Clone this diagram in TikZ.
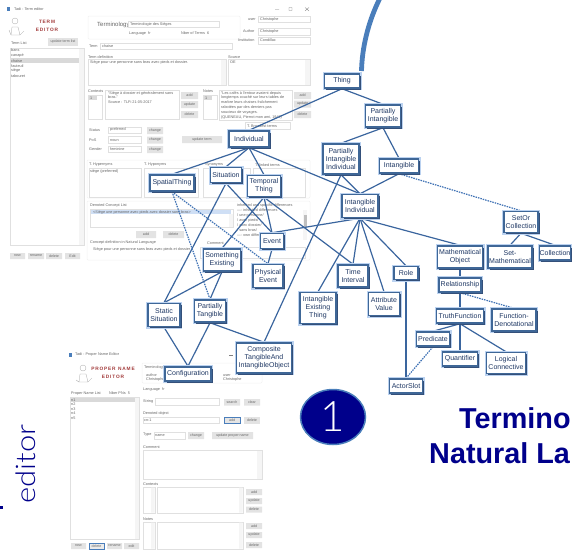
\documentclass[tikz,border=0pt]{standalone}
\usepackage{fontspec}
\setmainfont{Liberation Sans}
\newfontfamily\numfont{Lato Light}
\usetikzlibrary{positioning, shadows, shapes.geometric}
\pgfdeclarelayer{ui}
\pgfdeclarelayer{links}
\pgfsetlayers{ui,links,main}
\definecolor{cLine}{HTML}{3A659E}
\definecolor{cDash}{HTML}{3F72B4}
\definecolor{cArc}{HTML}{4A7EBB}
\definecolor{cBorder}{HTML}{3F6797}
\definecolor{cShade}{HTML}{34507A}
\definecolor{cGlow}{HTML}{BBD2F0}
\definecolor{cText}{HTML}{1F3864}
\definecolor{cNavy}{HTML}{00008B}
\definecolor{cRed}{HTML}{A23B3B}
\definecolor{cUi}{HTML}{666666}
\tikzstyle{cpt}=[draw=cBorder, line width=1.5pt, fill=white, inner sep=0pt, align=center, text=cText, font=\fontsize{7}{8}\selectfont, preaction={draw=cGlow, line width=4pt}, drop shadow={shadow xshift=1.5pt, shadow yshift=-1.5pt, fill=cShade, opacity=1}]
\tikzstyle{rel}=[draw=cLine, line width=1.2pt]
\tikzstyle{reldash}=[draw=cDash, line width=1.2pt, dash pattern=on 1.5pt off 1pt]
\tikzstyle{lbl}=[anchor=west, inner sep=0pt, text=cUi, font=\fontsize{3.8}{4.9}\selectfont, align=left]
\tikzstyle{btxt}=[inner sep=0pt, text=cUi, font=\fontsize{3.6}{4}\selectfont]
\tikzstyle{box}=[draw=black!12, line width=.35pt, fill=white]
\tikzstyle{panel}=[draw=black!6, line width=.5pt, rounded corners=1pt]
\tikzstyle{btn}=[fill=black!11]
\tikzstyle{sbar}=[fill=black!4]
\tikzstyle{logo}=[draw=black!35, line width=.3pt]
\tikzstyle{brand}=[inner sep=0pt, text=cRed, font=\fontsize{4.8}{7.5}\selectfont\bfseries, align=center]
\begin{document}
\begin{tikzpicture}[x=1pt, y=-1pt]
\useasboundingbox (0,0) rectangle (572,549);
\begin{pgfonlayer}{ui}
% term editor window
\fill[cArc] (7,7) rectangle (10,11);
\node[lbl] (T0) at (14,9.5) {Tadi - Term editor};
\draw[black!50, line width=.3pt] (275,9.5) -- (279,9.5) (289,7.5) rectangle (292,10.5) (305,7.5) -- (309,11) (305,11) -- (309,7.5);
\draw[logo] (15,21) circle (3) (11,35) -- (12,27) -- (18,27) -- (20,35) -- cycle (9,30) -- (11,35) (20,35) -- (24,31);
\node[brand] (T1) at (47,26) {T\,E\,R\,M\\E\,D\,I\,T\,O\,R};
\node[lbl] (T2) at (11,43) {Term List};
\fill[btn] (48,38) rectangle (78,46);
\node[btxt] (T3) at (63,42) {update term list};
\draw[box] (10,48) rectangle (84,245);
\fill[sbar] (79,48.5) rectangle (83.7,244.5);
\fill[black!15] (10.5,58.3) rectangle (79,63);
\node[lbl] (T4) at (11,50) {bans};
\node[lbl] (T5) at (11,55.5) {canapé};
\node[lbl] (T6) at (11,60.7) {chaise};
\node[lbl] (T7) at (11,65.7) {fauteuil};
\node[lbl] (T8) at (11,70.7) {siège};
\node[lbl] (T9) at (11,75.7) {tabouret};
\fill[btn] (10,253) rectangle (25,259) (28,253) rectangle (44,259) (46,253) rectangle (62,259) (65,253) rectangle (80,259);
\node[btxt] (T10) at (17.5,256) {new};
\node[btxt] (T11) at (36,256) {rename};
\node[btxt] (T12) at (54,256) {delete};
\node[btxt] (T13) at (72.5,256) {Edit};
\draw[panel] (88,16) rectangle (240,39);
\node[lbl, font=\fontsize{6}{7}\selectfont] (T14) at (97,25) {Terminology};
\draw[box] (128,21) rectangle (219,27);
\node[lbl] (T15) at (130,24) {Terminologie des Sièges};
\node[lbl] (T16) at (129,33.5) {Language\ \ fr};
\node[lbl] (T17) at (181,33.5) {Nber of Terms\ \ 6};
\node[lbl] (T18) at (248,19.5) {user};
\draw[box] (258,16) rectangle (310,22.5);
\node[lbl] (T19) at (260,19.5) {Christophe};
\node[lbl] (T20) at (243,31.5) {Author};
\draw[box] (258,28) rectangle (310,35);
\node[lbl] (T21) at (260,31.5) {Christophe};
\node[lbl] (T22) at (238,40.5) {Institution};
\draw[box] (258,37) rectangle (310,44);
\node[lbl] (T23) at (260,40.5) {Condillac};
\node[lbl] (T24) at (89,46) {Term};
\draw[box] (100,43) rectangle (232,49.5);
\node[lbl] (T25) at (102,46) {chaise};
\node[lbl] (T26) at (88,57) {Term definition};
\draw[box] (88,59) rectangle (226,85);
\fill[sbar] (221,59.5) rectangle (225.5,84.5);
\node[lbl] (T27) at (90,62.5) {Siège pour une personne sans bras avec pieds et dossier.};
\node[lbl] (T28) at (228,57) {Source};
\draw[box] (228,59) rectangle (310,85);
\fill[sbar] (305,59.5) rectangle (309.5,84.5);
\node[lbl] (T29) at (230,62.5) {OE};
\node[lbl] (T30) at (88,91) {Contexts};
\draw[box] (88,95) rectangle (102,119);
\fill[black!15] (88.5,95.5) rectangle (97,100);
\node[lbl] (T31) at (90,98) {1};
\draw[box] (105,90) rectangle (179,119);
\node[lbl, anchor=north west] (T32) at (108,91) {"Siège à dossier et généralement sans\\bras."\\Source : TLFi 21-05-2017};
\fill[btn] (181,92) rectangle (198,99) (181,101) rectangle (198,108) (181,111) rectangle (198,118);
\node[btxt] (T33) at (189.5,95.5) {add};
\node[btxt] (T34) at (189.5,104.5) {update};
\node[btxt] (T35) at (189.5,114.5) {delete};
\node[lbl] (T36) at (203,91) {Notes};
\draw[box] (203,95) rectangle (217,119);
\fill[black!15] (203.5,95.5) rectangle (212,100);
\node[lbl] (T37) at (205,98) {1};
\draw[box] (219,90) rectangle (292,120);
\node[lbl, anchor=north west] (T38) at (221,91) {"Les cafés à l'entour avaient depuis\\longtemps couché sur leurs tables de\\marbre leurs chaises fraîchement\\rabotées par des derniers pas\\soucieux de voyages.\\(QUENEAU, Pierrot mon ami, 1942)};
\fill[btn] (294,92) rectangle (311,99) (294,100.5) rectangle (311,107.5) (294,111) rectangle (311,118);
\node[btxt] (T39) at (302.5,95.5) {add};
\node[btxt] (T40) at (302.5,104) {update};
\node[btxt] (T41) at (302.5,114.5) {delete};
\node[lbl] (T42) at (89,130) {Status};
\draw[box] (108,127) rectangle (141,133.5);
\node[lbl] (T43) at (110,130) {preferred};
\node[lbl] (T44) at (89,140) {PoS};
\draw[box] (108,136.5) rectangle (141,143);
\node[lbl] (T45) at (110,140) {noun};
\node[lbl] (T46) at (89,149) {Gender};
\draw[box] (108,146) rectangle (141,152.5);
\node[lbl] (T47) at (110,149) {feminine};
\fill[btn] (147,127) rectangle (163,134) (147,136.5) rectangle (163,143.5) (147,146) rectangle (163,153) (182,136) rectangle (222,143);
\node[btxt] (T48) at (155,130.5) {change};
\node[btxt] (T49) at (155,140) {change};
\node[btxt] (T50) at (155,149.5) {change};
\node[btxt] (T51) at (202,139.5) {update term};
\draw[box] (245,122) rectangle (290,129.5);
\node[lbl] (T52) at (247,126) {T. Broadest terms};
\draw[panel] (87,160) rectangle (310,198);
\node[lbl] (T53) at (89,165) {T. Hypernyms};
\draw[box] (89,168) rectangle (141,197);
\node[lbl] (T54) at (90,171) {siège (preferred)};
\node[lbl] (T55) at (144,165) {T. Hyponyms};
\draw[box] (144,168) rectangle (198,197);
\node[lbl] (T56) at (205,165) {Synonyms};
\draw[box] (203,168) rectangle (250,197);
\node[lbl] (T57) at (255,165) {T. linked terms};
\draw[box] (253,168) rectangle (305,197);
\draw[panel] (87,201) rectangle (310,260);
\node[lbl] (T58) at (90,206) {Denoted Concept List};
\draw[box] (90,209) rectangle (233,227);
\fill[cGlow!70] (91,209.5) rectangle (231,214);
\fill[sbar] (229,214) rectangle (232.5,226.5);
\node[lbl] (T59) at (93,212) {<Siège une personne avec pieds avec dossier sans bras>};
\fill[btn] (136,231) rectangle (156,238) (163,231) rectangle (184,238);
\node[btxt] (T60) at (146,234.5) {add};
\node[btxt] (T61) at (173.5,234.5) {delete};
\node[lbl] (T62) at (90,243) {Concept definition in Natural Language};
\node[lbl] (T63) at (93,249) {Siège pour une personne sans bras avec pieds et dossier};
\node[lbl] (T64) at (207,243) {Comment};
\draw[box] (200,247) rectangle (305,258);
\node[lbl, anchor=north west] (T65) at (237,204) {inherited and specific differences\\---- inherited differences\\/ une personne/\\/ avec pieds/\\/ avec dossier/\\/ sans bras/\\---- own differences};
\fill[sbar] (303,210) rectangle (307,240);
\fill[black!25] (303.5,215) rectangle (306.5,228);
% proper name editor window
\fill[cArc] (69,353) rectangle (72,357);
\node[lbl] (P0) at (75,355) {Tadi - Proper Name Editor};
\draw[black!50, line width=.3pt] (229,355) -- (233,355) (243.5,353.5) rectangle (246.5,356.5);
\draw[logo] (83,368) circle (3) (79,382) -- (80,374) -- (86,374) -- (88,382) -- cycle (76,380) -- (79,382) (88,382) -- (92,378);
\node[brand] (P1) at (113,373) {P\,R\,O\,P\,E\,R\ \ N\,A\,M\,E\\E\,D\,I\,T\,O\,R};
\draw[panel] (142,363) rectangle (262,383);
\node[lbl] (P2) at (144,368) {Terminology};
\node[lbl] (P3) at (146,375) {author};
\node[lbl] (P4) at (146,380) {Christophe};
\node[lbl] (P5) at (223,375) {user};
\node[lbl] (P6) at (223,380) {Christophe};
\node[lbl] (P7) at (71,393.5) {Proper Name List};
\node[lbl] (P8) at (109,393.5) {Nber PNs\ \ 5};
\draw[box] (70,397) rectangle (139,539);
\fill[sbar] (135,397.5) rectangle (138.5,538.5);
\fill[black!15] (70.5,397.5) rectangle (135,402);
\node[lbl] (P9) at (71,399.7) {n1};
\node[lbl] (P10) at (71,404.4) {n2};
\node[lbl] (P11) at (71,409) {n3};
\node[lbl] (P12) at (71,413.6) {n4};
\node[lbl] (P13) at (71,418.2) {n5};
\node[lbl] (P14) at (143,390) {Language\ \ fr};
\node[lbl] (P15) at (143,402) {String};
\draw[box] (155,398.5) rectangle (219,405);
\fill[btn] (224,399) rectangle (240,405.5) (244,399) rectangle (260,405.5);
\node[btxt] (P16) at (232,402) {search};
\node[btxt] (P17) at (252,402) {clear};
\node[lbl] (P18) at (143,414) {Denoted object};
\draw[box] (143,417) rectangle (219,423.5);
\node[lbl] (P19) at (144,420) {cn:1};
\draw[fill=black!10, draw=cArc, line width=.5pt] (224,417) rectangle (240,423.5);
\fill[btn] (244,417) rectangle (260,423.5);
\node[btxt] (P20) at (232,420.3) {add};
\node[btxt] (P21) at (252,420.3) {delete};
\node[lbl] (P22) at (143,435) {Type};
\draw[box] (154,432) rectangle (185,439);
\node[lbl] (P23) at (155,435.5) {name};
\fill[btn] (188,432) rectangle (204,439) (212,432) rectangle (253,439);
\node[btxt] (P24) at (196,435.5) {change};
\node[btxt] (P25) at (232.5,435.5) {update proper name};
\node[lbl] (P26) at (143,447) {Comment};
\draw[box] (143,450) rectangle (262,479);
\fill[sbar] (257,450.5) rectangle (261.5,478.5);
\node[lbl] (P27) at (143,484) {Contexts};
\draw[box] (143,487) rectangle (155,513) (157,487) rectangle (243,513);
\fill[sbar] (151,487.5) rectangle (154.5,512.5) (239,487.5) rectangle (242.5,512.5);
\fill[btn] (246,489) rectangle (262,495) (246,498) rectangle (262,504) (246,506.5) rectangle (262,512.5);
\node[btxt] (P28) at (254,492) {add};
\node[btxt] (P29) at (254,501) {update};
\node[btxt] (P30) at (254,509.5) {delete};
\node[lbl] (P31) at (143,519) {Notes};
\draw[box] (143,522) rectangle (155,549) (157,522) rectangle (243,549);
\fill[sbar] (151,522.5) rectangle (154.5,548.5) (239,522.5) rectangle (242.5,548.5);
\fill[btn] (246,523) rectangle (262,529) (246,532) rectangle (262,538) (246,542) rectangle (262,548);
\node[btxt] (P32) at (254,526) {add};
\node[btxt] (P33) at (254,535) {update};
\node[btxt] (P34) at (254,545) {delete};
\fill[btn] (71,543) rectangle (86,549) (107,543) rectangle (122,549) (124,543) rectangle (139,549);
\draw[fill=black!8, draw=cArc, line width=.4pt] (89,543) rectangle (104,549);
\node[btxt] (P35) at (78.5,546) {new};
\node[btxt] (P36) at (96.5,546) {delete};
\node[btxt] (P37) at (114.5,546) {rename};
\node[btxt] (P38) at (131.5,546) {edit};
\end{pgfonlayer}
% slide texts
\node[rotate=90, xscale=1.15, transform shape, inner sep=0pt, text=cNavy, font=\numfont\fontsize{27}{27}\selectfont] (ED) at (26,464) {editor};
\fill[cNavy] (0,505.5) rectangle (2.5,508.5);
\node[ellipse, minimum width=65, minimum height=55, inner sep=0pt, fill=cNavy, draw=cArc, line width=1.5pt, text=white, font=\numfont\fontsize{42}{42}\selectfont] (N1) at (333,417) {1};
\node[anchor=base west, inner sep=0pt, text=cNavy, font=\fontsize{28.8}{28.8}\selectfont\bfseries] (H1) at (459,428) {Termino};
\node[anchor=base west, inner sep=0pt, text=cNavy, font=\fontsize{28.8}{28.8}\selectfont\bfseries] (H2) at (429,463) {Natural La};
% concepts
\node[cpt, minimum width=35, minimum height=14] (Thing) at (342,81) {Thing};
\node[cpt, minimum width=35, minimum height=22] (PartInt) at (383,116) {Partially\\Intangible};
\node[cpt, minimum width=36, minimum height=30] (PartIntInd) at (341,159) {Partially\\Intangible\\Individual};
\node[cpt, minimum width=39, minimum height=14] (Intang) at (399,166) {Intangible};
\node[cpt, minimum width=36, minimum height=23] (IntInd) at (360,206) {Intangible\\Individual};
\node[cpt, minimum width=40, minimum height=16] (Indiv) at (249,139) {Individual};
\node[cpt, minimum width=44, minimum height=16] (Spatial) at (172,183) {SpatialThing};
\node[cpt, minimum width=31, minimum height=15] (Situ) at (226,175) {Situation};
\node[cpt, minimum width=33, minimum height=21] (Temporal) at (264,186) {Temporal\\Thing};
\node[cpt, minimum width=23, minimum height=15] (Event) at (272,241) {Event};
\node[cpt, minimum width=30, minimum height=23] (PhysEvent) at (268,276) {Physical\\Event};
\node[cpt, minimum width=37, minimum height=22] (SomeEx) at (222,260) {Something\\Existing};
\node[cpt, minimum width=32, minimum height=23] (StaticSit) at (164,315) {Static\\Situation};
\node[cpt, minimum width=31, minimum height=22] (PartTang) at (210,311) {Partially\\Tangible};
\node[cpt, minimum width=46, minimum height=14] (Config) at (188,374) {Configuration};
\node[cpt, minimum width=55, minimum height=30] (Composite) at (264,358) {Composite\\TangibleAnd\\IntangibleObject};
\node[cpt, minimum width=36, minimum height=31] (IntExist) at (318,308) {Intangible\\Existing\\Thing};
\node[cpt, minimum width=30, minimum height=22] (TimeInt) at (353,276) {Time\\Interval};
\node[cpt, minimum width=31, minimum height=23] (AttrVal) at (384,304) {Attribute\\Value};
\node[cpt, minimum width=24, minimum height=13] (Role) at (406,273) {Role};
\node[cpt, minimum width=45, minimum height=22] (MathObj) at (460,257) {Mathematical\\Object};
\node[cpt, minimum width=42, minimum height=14] (Relat) at (460,285) {Relationship};
\node[cpt, minimum width=47, minimum height=14] (Truth) at (460,316) {TruthFunction};
\node[cpt, minimum width=44, minimum height=22] (FuncDen) at (514,320) {Function-\\Denotational};
\node[cpt, minimum width=33, minimum height=14] (Pred) at (433,339) {Predicate};
\node[cpt, minimum width=35, minimum height=14] (Quant) at (460,359) {Quantifier};
\node[cpt, minimum width=39, minimum height=21] (Logic) at (506,363) {Logical\\Connective};
\node[cpt, minimum width=33, minimum height=14] (Actor) at (406,386) {ActorSlot};
\node[cpt, minimum width=34, minimum height=21] (SetOr) at (521,222) {SetOr\\Collection};
\node[cpt, minimum width=44, minimum height=22] (SetMath) at (510,257) {Set-\\Mathematical};
\node[cpt, minimum width=31, minimum height=14] (Coll) at (555,253) {Collection};
% links go below the concepts
\begin{pgfonlayer}{links}
\coordinate (A0) at (361.5,71);
\coordinate (A1) at (380,-2);
\draw[cArc, line width=4.8pt] (A0) .. controls (362,48) and (368,22) .. (A1);
\draw[rel] (Thing.south) -- (Indiv.north);
\draw[rel] (Thing.south) -- (PartInt.north);
\draw[rel] (PartInt.south) -- (PartIntInd.north);
\draw[rel] (PartInt.south) -- (Intang.north);
\draw[rel] (PartIntInd.south) -- (IntInd.north);
\draw[rel] (PartIntInd.south) -- (Composite.north);
\draw[rel] (Intang.south) -- (IntInd.north);
\draw[reldash] (Intang.south) -- (SetOr.north);
\draw[rel] (Indiv.south) -- (IntInd.north);
\draw[rel] (Indiv.south) -- (Spatial.north);
\draw[rel] (Indiv.south) -- (Situ.north);
\draw[rel] (Indiv.south) -- (Temporal.north);
\draw[rel] (Situ.south) -- (StaticSit.north);
\draw[rel] (Situ.south) -- (Event.north);
\draw[rel] (Temporal.south) -- (SomeEx.north);
\draw[rel] (Temporal.south) -- (Event.north);
\draw[rel] (Temporal.south) -- (TimeInt.north);
\draw[rel] (Event.south) -- (PhysEvent.north);
\draw[rel] (Event.north) -- (IntInd.south);
\draw[reldash] (Spatial.south) -- (PartTang.north);
\draw[reldash] (Spatial.south) -- (PhysEvent.north);
\draw[rel] (SomeEx.south) -- (StaticSit.north);
\draw[rel] (SomeEx.south) -- (PartTang.north);
\draw[rel] (StaticSit.south) -- (Config.north);
\draw[rel] (PartTang.south) -- (Config.north);
\draw[rel] (PartTang.south) -- (Composite.north);
\draw[rel] (IntInd.south) -- (IntExist.north);
\draw[rel] (IntInd.south) -- (TimeInt.north);
\draw[rel] (IntInd.south) -- (AttrVal.north);
\draw[rel] (IntInd.south) -- (Role.north);
\draw[rel] (IntInd.south) -- (MathObj.north);
\draw[rel] (MathObj.south) -- (Relat.north);
\draw[rel] (Relat.south) -- (Truth.north);
\draw[reldash] (Relat.south) -- (FuncDen.north);
\draw[rel] (Truth.south) -- (Pred.north);
\draw[rel] (Truth.south) -- (Quant.north);
\draw[rel] (Truth.south) -- (Logic.north);
\draw[rel] (Role.south) -- (Actor.north);
\draw[reldash] (Pred.south) -- (Actor.north);
\draw[rel] (SetOr.south) -- (SetMath.north);
\draw[rel] (SetOr.south) -- (Coll.north);
\end{pgfonlayer}
\end{tikzpicture}
\end{document}
